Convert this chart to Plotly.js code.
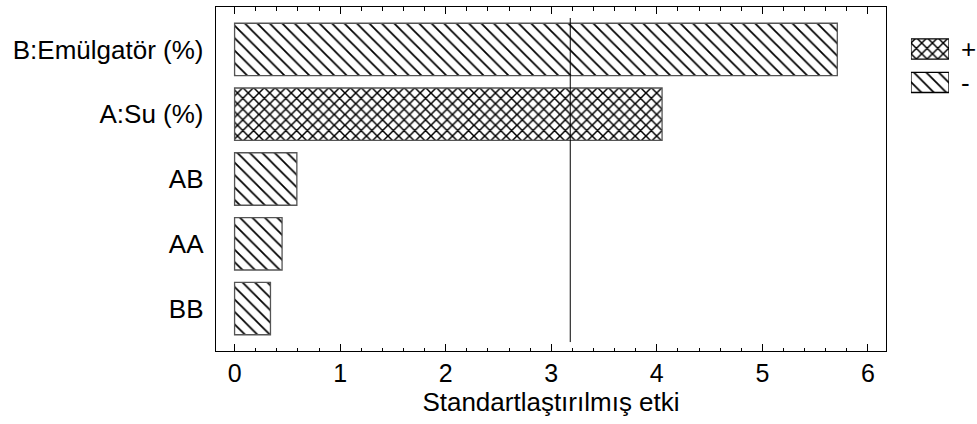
<!DOCTYPE html>
<html>
<head>
<meta charset="utf-8">
<script src="https://cdn.plot.ly/plotly-3.0.1.min.js"></script>
<style>html,body{margin:0;padding:0;background:#fff;}#chart{width:977px;height:424px;}</style>
</head>
<body>
<div id="chart"></div>
<script>
const categories = ["B:Emülgatör (%)", "A:Su (%)", "AB", "AA", "BB"];
const effects = [5.71, 4.05, 0.59, 0.45, 0.34];
const signs = ["-", "+", "-", "-", "-"];
const criticalValue = 3.18;
const xTickVals = [0, 1, 2, 3, 4, 5, 6];
const legendKeys = ["+", "-"];

const patterns = {
  '+': {shape: 'x', size: 7.6, solidity: 0.36, fgcolor: '#000', bgcolor: '#fff'},
  '-': {shape: '\\', size: 8.8, solidity: 0.2, fgcolor: '#000', bgcolor: '#fff'}
};
const border = {color: '#555', width: 1.3};

function pick(sign) {
  const y = [], x = [];
  categories.forEach((c, i) => { if (signs[i] === sign) { y.push(c); x.push(effects[i]); } });
  return {y, x};
}
const traces = [];
legendKeys.forEach(s => {
  const d = pick(s);
  traces.push({type: 'bar', orientation: 'h', width: 0.81, name: s, x: d.x, y: d.y,
    xaxis: 'x', yaxis: 'y', showlegend: false,
    marker: {color: '#fff', line: border, pattern: patterns[s]}});
});
// legend swatches drawn as a tiny bar subplot
legendKeys.forEach((s, i) => {
  traces.push({type: 'bar', orientation: 'h', width: 0.6, name: s, x: [1], y: [i],
    xaxis: 'x2', yaxis: 'y2', showlegend: false,
    marker: {color: '#fff', line: {color: '#000', width: 1.3}, pattern: patterns[s]}});
});

const font = 'Liberation Sans, Arial, Helvetica, sans-serif';
const layout = {
  width: 977, height: 424,
  margin: {l: 216, r: 10, t: 7, b: 73},
  paper_bgcolor: '#fff', plot_bgcolor: 'rgba(0,0,0,0)',
  font: {family: font, size: 26, color: '#000'},
  barmode: 'overlay',
  showlegend: false,
  xaxis: {
    domain: [0, 0.8921],
    range: [-0.176, 6.171], tickvals: xTickVals, ticks: 'inside', ticklen: 7, tickcolor: '#000', tickwidth: 1,
    minor: {dtick: 0.2, ticks: 'inside', ticklen: 3.5, tickcolor: '#000', tickwidth: 1},
    showgrid: false, zeroline: false, showline: true, linecolor: '#000', linewidth: 1.3,
    mirror: 'ticks',
    title: {text: 'Standartlaştırılmış etki', font: {size: 26}, standoff: 4},
    tickfont: {size: 25}
  },
  yaxis: {
    type: 'category', categoryorder: 'array', categoryarray: categories,
    range: [4.656, -0.656], showgrid: false, zeroline: false,
    showline: true, linecolor: '#000', linewidth: 1.3, mirror: true, ticks: '',
    ticklabelstandoff: 6, tickfont: {size: 26}
  },
  xaxis2: {domain: [0.9254, 0.976], anchor: 'y2', range: [0, 1], visible: false, fixedrange: true},
  yaxis2: {domain: [0.732, 0.9266], anchor: 'x2', type: 'linear', range: [1.5, -0.5],
    tickmode: 'array', tickvals: legendKeys.map((k, i) => i), ticktext: legendKeys,
    side: 'right', showline: false, showgrid: false,
    zeroline: false, ticks: '', ticklabelstandoff: 11, tickfont: {size: 26}},
  shapes: [{type: 'line', xref: 'x', yref: 'paper', x0: criticalValue, x1: criticalValue,
    y0: 0.026, y1: 0.968, line: {color: '#000', width: 1}}]
};
Plotly.newPlot('chart', traces, layout, {displayModeBar: false, staticPlot: true});
</script>
</body>
</html>
